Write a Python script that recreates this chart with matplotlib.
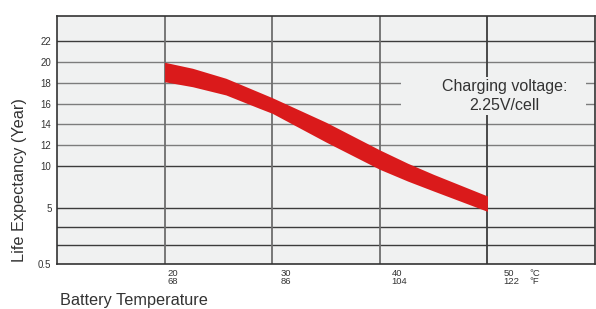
import numpy as np
import matplotlib
matplotlib.use("Agg")
import matplotlib.pyplot as plt
from matplotlib.patches import Rectangle

plt.rcParams['font.family'] = ['Liberation Sans', 'DejaVu Sans']

# ---- data ----
temps = [20, 22.6, 25.7, 28.8, 30, 35, 40, 42.6, 45, 50]
life_upper = [19.96, 19.38, 18.42, 17.08, 16.56, 14.2, 11.54, 10.26, 9.0, 6.43]
life_lower = [18.09, 17.61, 16.82, 15.54, 15.06, 12.3, 9.6, 8.2, 7.02, 4.73]

temp_c = [20, 30, 40, 50]
temp_f = [68, 86, 104, 122]
y_labeled = [0.5, 5, 10, 12, 14, 16, 18, 20, 22]
y_unlabeled = [2, 3.5]

# ---- custom (piecewise) y scale as in the reference ----
_vals = np.array([0.5, 5, 10, 22, 30])
_pos = np.array([0, 56, 98, 223, 306.4])


def fwd(v):
    return np.interp(v, _vals, _pos)


def inv(p):
    return np.interp(p, _pos, _vals)


fig = plt.figure(figsize=(5.96, 3.09), dpi=100)
ax = fig.add_axes([57 / 596, 1 - 264 / 309, (595 - 57) / 596, (264 - 16) / 309])
ax.set_facecolor('#f0f1f1')
ax.set_yscale('function', functions=(fwd, inv))
ax.set_xlim(10, 60)
ax.set_ylim(0.5, inv(248))

# gridlines
dark = '#3c3c3c'
grey = '#7c7c7c'
hcolors = {0.5: dark, 2: dark, 3.5: dark, 5: dark, 10: dark, 12: grey, 14: grey,
           16: grey, 18: grey, 20: grey, 22: dark}
for v in y_unlabeled + y_labeled[1:]:
    ax.axhline(v, color=hcolors[v], lw=1.0, zorder=1)
for t in temp_c:
    ax.axvline(t, color=dark if t == 50 else '#6e6e6e', lw=1.3, zorder=1)

# text box covering gridlines
ax.add_patch(Rectangle((42.0, 14.9), 59.2 - 42.0, 18.55 - 14.9, facecolor='#f0f1f1',
                       edgecolor='none', zorder=2))
ax.text(51.57, 16.72, 'Charging voltage:\n2.25V/cell', ha='center', va='center',
        fontsize=11.5, color='#333333', zorder=3, linespacing=1.3)

# life curve band
ax.fill_between(temps, life_lower, life_upper, color='#da1a1b', lw=0, zorder=4)

# ticks
ax.set_yticks(y_labeled)
ax.set_yticklabels([str(v) for v in y_labeled])
ax.tick_params(axis='y', length=0, pad=4, labelsize=7, labelcolor='#333333')
ax.set_xticks([])
for s in ax.spines.values():
    s.set_color('#333333')
    s.set_linewidth(1.2)
    s.set_zorder(5)

# x labels (°C / °F)
label_x = [20.3, 30.8, 41.1, 51.5]
for lx, c, f in zip(label_x, temp_c, temp_f):
    ax.text(lx, -0.022, f'{c}\n{f}', transform=ax.get_xaxis_transform(), ha='left',
            va='top', fontsize=6.8, color='#333333', linespacing=0.85)
ax.text(53.9, -0.022, '°C\n°F', transform=ax.get_xaxis_transform(), ha='left',
        va='top', fontsize=6.8, color='#333333', linespacing=0.85)

fig.text(20 / 596, 1 - 180 / 309, 'Life Expectancy (Year)', rotation=90, ha='center',
         va='center', fontsize=11.7, color='#333333')
fig.text(60 / 596, 1 - 300 / 309, 'Battery Temperature', ha='left', va='center',
         fontsize=11.7, color='#333333')

fig.savefig('out.png', dpi=100)
